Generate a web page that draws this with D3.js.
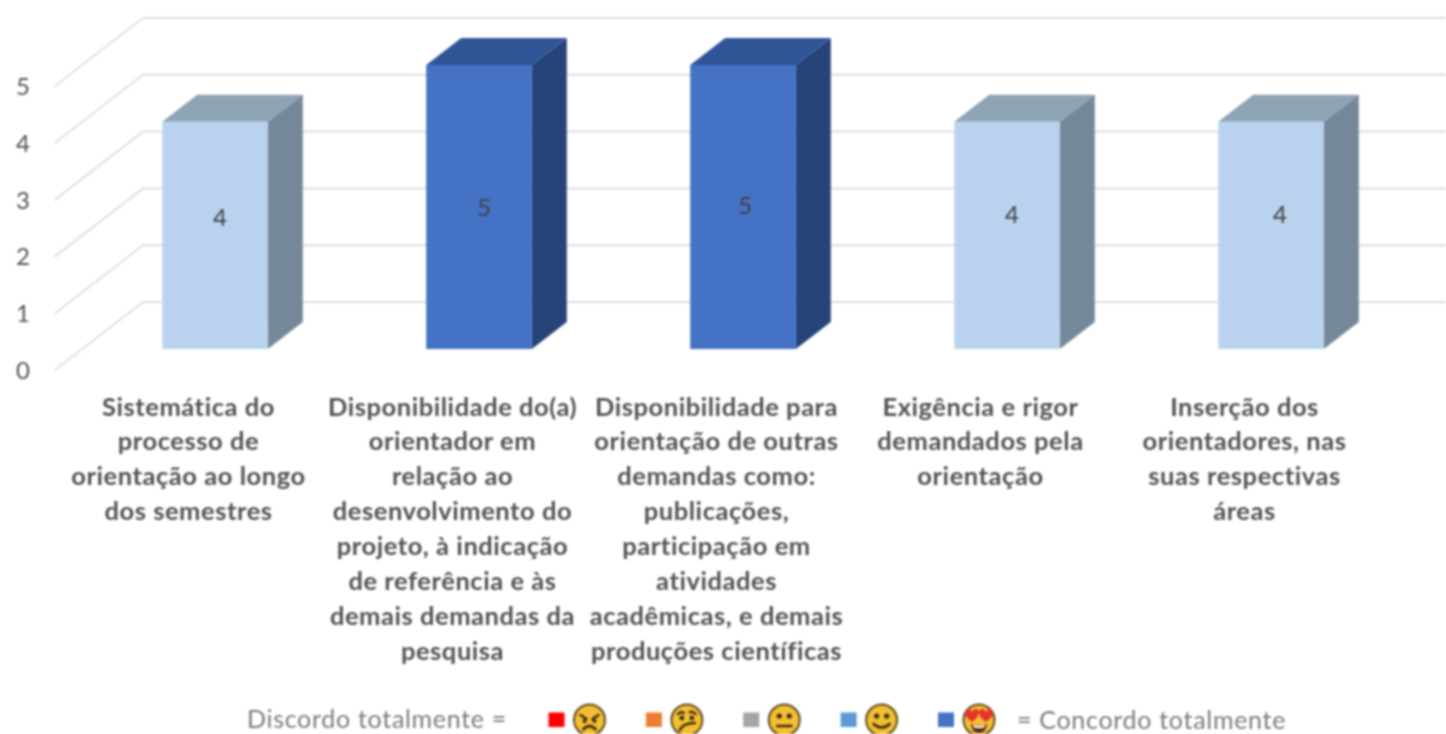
<!DOCTYPE html>
<html><head><meta charset="utf-8">
<script src="https://cdn.jsdelivr.net/npm/d3@7"></script>
<style>html,body{margin:0;background:#fff}svg{display:block;filter:blur(.8px)}</style>
</head><body><svg id="c" width="1446" height="734"></svg>
<script>
const categories=[
 ["Sistemática do","processo de","orientação ao longo","dos semestres"],
 ["Disponibilidade do(a)","orientador em","relação ao","desenvolvimento do","projeto, à indicação","de referência e às","demais demandas da","pesquisa"],
 ["Disponibilidade para","orientação de outras","demandas como:","publicações,","participação em","atividades","acadêmicas, e demais","produções científicas"],
 ["Exigência e rigor","demandados pela","orientação"],
 ["Inserção dos","orientadores, nas","suas respectivas","áreas"]];
const values=[4,5,5,4,4];
const yTicks=[0,1,2,3,4,5];
const legendColors=["#FF0000","#ED7D31","#A5A5A5","#5B9BD5","#4472C4"];
const legendFaces=["angry","confused","neutral","smile","hearts"];
const legendLeft="Discordo totalmente =", legendRight="= Concordo totalmente";

const svg=d3.select("#c");
const font="Lato,'Open Sans',sans-serif", ink="#525252";
const depth={x:35,y:-27};
const x=d3.scaleBand().domain(d3.range(values.length)).range([83,1403]).paddingInner(.6).paddingOuter(.3);
const y=d3.scaleLinear().domain([0,5]).range([349,65]);
const wallLeft=143, wallRight=1446, wallDy=-47, frontDx=-88, frontDy=68;
// walls
const grid=svg.append("g").attr("fill","none").attr("stroke-linecap","round");
yTicks.forEach(t=>{
  const yb=y(t)+wallDy;
  grid.append("line").attr("x1",wallLeft).attr("x2",wallRight).attr("y1",yb).attr("y2",yb).attr("stroke","#DEDEDE").attr("stroke-width",2);
  grid.append("line").attr("x1",wallLeft).attr("x2",wallLeft+frontDx).attr("y1",yb).attr("y2",yb+frontDy).attr("stroke","#E0E0E0").attr("stroke-width",2);
});
// y labels
svg.append("g").selectAll("text").data(yTicks).join("text")
 .attr("x",23).attr("y",t=>y(t)+wallDy+frontDy+9).attr("text-anchor","middle")
 .attr("font-family",font).attr("font-size",24).attr("fill",ink).text(t=>t);
// bars
const faces=v=>v===5?{front:"#4472C4",top:"#2F5597",side:"#264478"}:{front:"#B9D3EE",top:"#8EA3B6",side:"#75889A"};
const bars=svg.append("g").selectAll("g").data(values).join("g");
bars.append("path").attr("fill",d=>faces(d).side).attr("d",(d,i)=>{
  const r=x(i)+x.bandwidth();
  return `M${r},${y(d)}L${r+depth.x},${y(d)+depth.y}L${r+depth.x},${y(0)+depth.y}L${r},${y(0)}Z`;});
bars.append("path").attr("fill",d=>faces(d).top).attr("d",(d,i)=>{
  const l=x(i),r=l+x.bandwidth();
  return `M${l},${y(d)}L${l+depth.x},${y(d)+depth.y}L${r+depth.x},${y(d)+depth.y}L${r},${y(d)}Z`;});
bars.append("rect").attr("fill",d=>faces(d).front).attr("x",(d,i)=>x(i)).attr("width",x.bandwidth()).attr("y",d=>y(d)).attr("height",d=>y(0)-y(d));
// value labels
const nudge=[[5,-17],[5,1],[2,-1],[5,-20],[9,-20]];
bars.append("text").attr("text-anchor","middle").attr("font-family",font).attr("font-size",24).attr("fill","#404040")
 .attr("x",(d,i)=>x(i)+x.bandwidth()/2+nudge[i][0]).attr("y",(d,i)=>(y(d)+y(0))/2+8+nudge[i][1]).text(d=>d);
// category labels: centred left of the bar face
const cat=svg.append("g").selectAll("text").data(categories).join("text")
 .attr("text-anchor","middle").attr("font-family",font).attr("font-weight",700).attr("font-size",25.5).attr("letter-spacing",.55).attr("fill",ink);
cat.each(function(lines,i){
  d3.select(this).selectAll("tspan").data(lines).join("tspan")
   .attr("x",x(i)+x.bandwidth()/2-26.5).attr("y",(l,j)=>415.5+j*34.9).text(l=>l);
});
// legend
const lg=svg.append("g");
lg.append("text").attr("x",247).attr("y",728).attr("font-family",font).attr("font-size",25).attr("letter-spacing",.7).attr("fill","#7A7A7A").text(legendLeft);
lg.append("text").attr("x",1017).attr("y",729).attr("font-family",font).attr("font-size",25).attr("letter-spacing",.7).attr("fill","#7A7A7A").text(legendRight);
const lx=d3.scalePoint().domain(legendFaces).range([548.5,938]);
legendFaces.forEach((f,i)=>{
  const sx=lx(f);
  lg.append("rect").attr("x",sx).attr("y",712.5).attr("width",16).attr("height",14.5).attr("fill",legendColors[i]);
  const g=lg.append("g").attr("transform",`translate(${sx+41},720)`);
  g.append("circle").attr("r",15.5).attr("fill","#F3BE30").attr("stroke","#5E4A22").attr("stroke-width",2);
  const s="#3D2C12";
  const path=(d,w=2.4)=>g.append("path").attr("d",d).attr("fill","none").attr("stroke",s).attr("stroke-width",w).attr("stroke-linecap","round");
  const eye=(cx,cy,r=2.4)=>g.append("circle").attr("cx",cx).attr("cy",cy).attr("r",r).attr("fill",s);
  if(f==="angry"){path("M-9,-5L-3,-1");path("M9,-5L3,-1");eye(-5,1,2);eye(5,1,2);path("M-6,9Q0,3 6,9",3);}
  if(f==="confused"){path("M-9,-6Q-6,-9 -3,-7");path("M3,-8Q6,-9 9,-6");eye(-5,-2);eye(5,-2);path("M-7,10Q-4,3 8,3",2.6);}
  if(f==="neutral"){eye(-5,-4,2.6);eye(5,-4,2.6);path("M-7,6H7",2.6);}
  if(f==="smile"){eye(-5,-4,2.6);eye(5,-4,2.6);path("M-8,4Q0,11 8,4",2.6);}
  if(f==="hearts"){
    const heart=(cx)=>g.append("path").attr("transform",`translate(${cx},-5)`).attr("fill","#E8342A")
      .attr("d","M0,7C-9,1 -8,-6 -4,-6C-2,-6 -1,-5 0,-3C1,-5 2,-6 4,-6C8,-6 9,1 0,7Z");
    heart(-7);heart(7);
    g.append("path").attr("d","M-8,4Q0,7 8,4Q7,13 0,13Q-7,13 -8,4Z").attr("fill","#5A2A1A");
    g.append("path").attr("d","M-6,5Q0,7 6,5L5.5,7.5Q0,9 -5.5,7.5Z").attr("fill","#fff");
  }
});
</script></body></html>
